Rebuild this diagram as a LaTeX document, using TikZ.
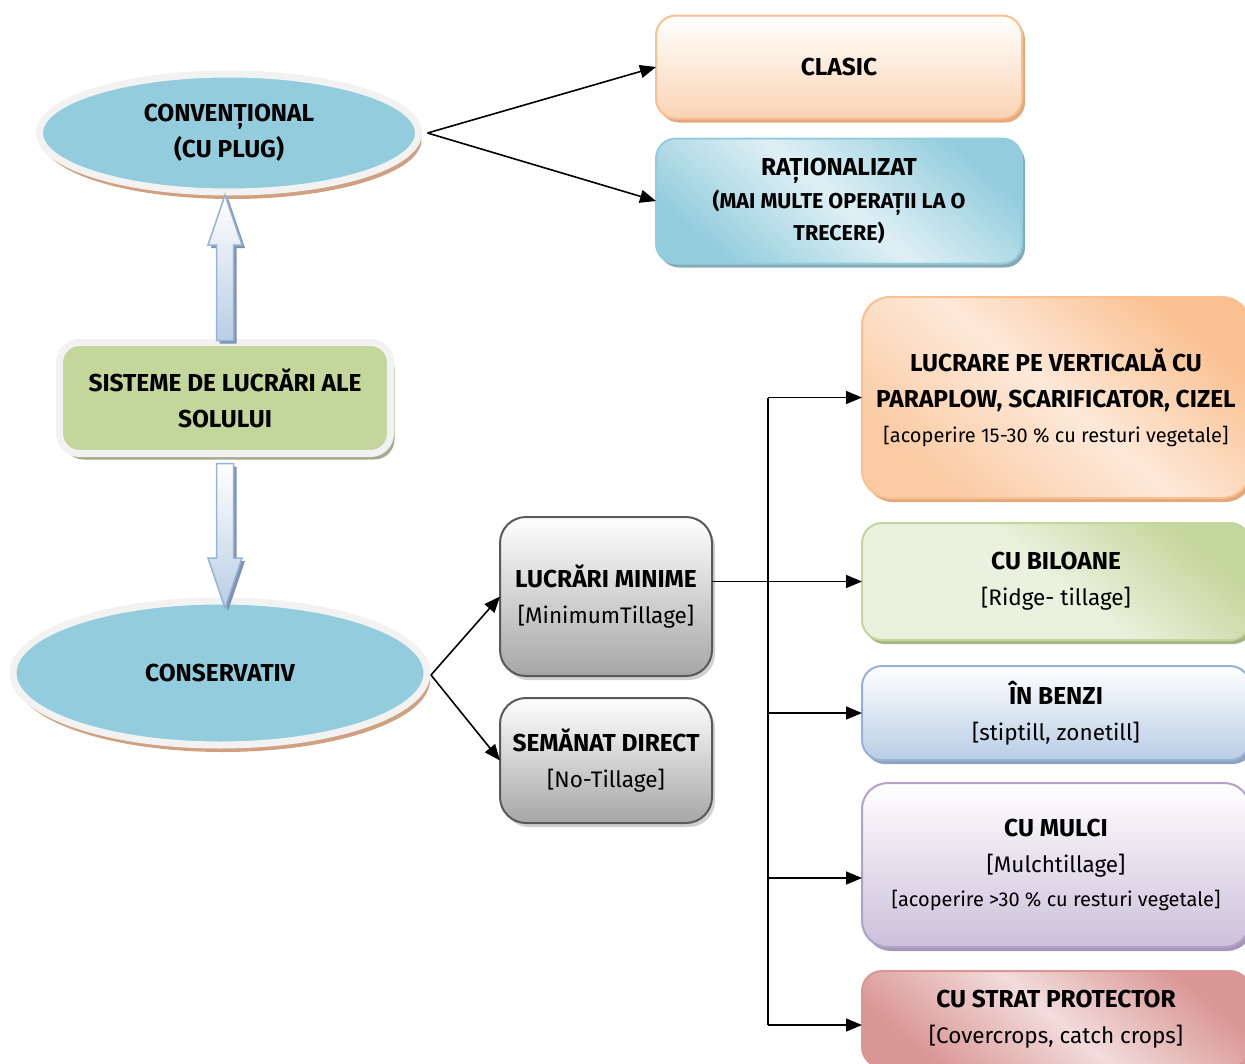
\documentclass[tikz,border=0pt]{standalone}
\usepackage{fontspec}
\setmainfont{Fira Sans}
\usetikzlibrary{arrows.meta,shapes.geometric,shadows,calc}
\definecolor{ellblue}{HTML}{93CDDD}
\definecolor{ring}{HTML}{F2F2F2}
\definecolor{ellshadow}{HTML}{D0A181}
\definecolor{sysgreen}{HTML}{C3D69B}
\definecolor{sysshadow}{HTML}{A3AC8E}
\definecolor{arrfill}{HTML}{B9CDE5}
\definecolor{arrdraw}{HTML}{95B3D7}
\definecolor{arrshadow}{HTML}{8093AE}
\definecolor{peach}{HTML}{FAC090}
\definecolor{peachlight}{HTML}{FDE9D9}
\definecolor{peachbot}{HTML}{FBD4B4}
\definecolor{peachshadow}{HTML}{E2A97F}
\definecolor{aqua}{HTML}{93CDDD}
\definecolor{aqualight}{HTML}{DFF0F5}
\definecolor{aquashadow}{HTML}{86A9B7}
\definecolor{grn}{HTML}{C3D69B}
\definecolor{grnlight}{HTML}{EBF1DE}
\definecolor{grnshadow}{HTML}{A4B583}
\definecolor{blu}{HTML}{B9CDE5}
\definecolor{bluborder}{HTML}{95B3D7}
\definecolor{blushadow}{HTML}{8FA3BC}
\definecolor{pur}{HTML}{CCC0DA}
\definecolor{purborder}{HTML}{B3A2C7}
\definecolor{purshadow}{HTML}{A796B8}
\definecolor{red}{HTML}{D99694}
\definecolor{redlight}{HTML}{F2DCDB}
\definecolor{gborder}{HTML}{595959}
\definecolor{gbot}{HTML}{A6A6A6}
\definecolor{gshadow}{HTML}{D0D0D0}
\newcommand\mybold{\fontsize{24.5}{36}\selectfont\bfseries}
\newcommand\myreg{\fontsize{22.5}{36}\selectfont\mdseries}
\newcommand\mysmall{\fontsize{20}{34}\selectfont\mdseries}
\newcommand\mymidb{\fontsize{21.5}{32}\selectfont\bfseries}
\begin{document}
\begin{tikzpicture}[x=1pt,y=-1pt,
  every node/.style={inner sep=0pt, outer sep=0pt},
  shad/.style={drop shadow={shadow xshift=3pt, shadow yshift=-4pt, fill=#1, opacity=1}},
  ell/.style={ellipse, draw=ring, line width=7pt, fill=ellblue, align=center, font=\mybold,
    drop shadow={shadow xshift=3pt, shadow yshift=-7pt, fill=ellshadow, opacity=1}},
  sysbox/.style={rectangle, rounded corners=20pt, draw=ring, line width=7pt, fill=sysgreen,
    align=center, font=\mybold,
    drop shadow={shadow xshift=4pt, shadow yshift=-6pt, fill=sysshadow, opacity=1}},
  rb/.style={rectangle, rounded corners=20pt, line width=2pt, align=center, font=\mybold},
  gbox/.style={rb, rounded corners=26pt, draw=gborder, top color=white, bottom color=gbot, shad=gshadow},
  ln/.style={draw=black, line width=1.6pt},
  arr/.style={ln, -{Triangle[length=16pt,width=13pt]}},
  blockarr/.style={draw=arrdraw, line width=1.5pt, top color=white, bottom color=arrfill,
    drop shadow={shadow xshift=3pt, shadow yshift=-3pt, fill=arrshadow, opacity=1}}
]
\useasboundingbox (0,0) rectangle (1245,1063);

% main nodes
\node[ell, minimum width=379pt, minimum height=118pt] (conv) at (229,133) {CONVENȚIONAL\\(CU PLUG)};
\node[ell, minimum width=414pt, minimum height=144pt] (cons) at (220,673) {CONSERVATIV};
\node[sysbox, minimum width=331pt, minimum height=111pt] (sys) at (225,398) {SISTEME DE LUCRĂRI ALE\\SOLULUI};

% top right
\node[rb, draw=peach, top color=white, bottom color=peachbot, shad=peachshadow,
  minimum width=366pt, minimum height=103pt] (cl) at (839,67) {CLASIC};
\node[rb, draw=aqua, top color=aqua, bottom color=aqua, middle color=aqualight, shading angle=-40, shad=aquashadow,
  minimum width=366pt, minimum height=125pt] (rt) at (839,201)
  {RAȚIONALIZAT\\[-3pt]{\mymidb (MAI MULTE OPERAȚII LA O}\\[-4pt]{\mymidb TRECERE)}};

% middle gray boxes
\node[gbox, minimum width=212pt, minimum height=159pt] (lm) at (606,596.5) {LUCRĂRI MINIME\\{\myreg [MinimumTillage]}};
\node[gbox, minimum width=212pt, minimum height=125pt] (sd) at (606,760.5) {SEMĂNAT DIRECT\\{\myreg [No-Tillage]}};

% right boxes
\node[rb, rounded corners=28pt, draw=peach, top color=peach, bottom color=peach!75!peachlight, middle color=peachlight, shading angle=-40, shad=peachshadow,
  minimum width=388pt, minimum height=201pt] (lv) at (1056,397.5)
  {LUCRARE PE VERTICALĂ CU\\PARAPLOW, SCARIFICATOR, CIZEL\\[-1pt]{\mysmall [acoperire 15-30 \% cu resturi vegetale]}};
\node[rb, draw=grn, top color=grn, bottom color=grnlight, middle color=grnlight, shading angle=-40, shad=grnshadow,
  minimum width=388pt, minimum height=117pt] (bi) at (1056,581.5) {CU BILOANE\\{\myreg [Ridge- tillage]}};
\node[rb, draw=bluborder, top color=white, bottom color=blu, shad=blushadow,
  minimum width=388pt, minimum height=94pt] (bz) at (1056,713) {ÎN BENZI\\{\myreg [stiptill, zonetill]}};
\node[rb, rounded corners=26pt, draw=purborder, top color=white, bottom color=pur, shad=purshadow,
  minimum width=388pt, minimum height=164pt] (mu) at (1056,865)
  {CU MULCI\\{\myreg [Mulchtillage]}\\[-2pt]{\mysmall [acoperire >30 \% cu resturi vegetale]}};
\node[rb, draw=red, top color=red, bottom color=red, middle color=redlight, shading angle=-40, shad=red,
  minimum width=388pt, minimum height=96pt] (st) at (1056,1019) {CU STRAT PROTECTOR\\{\myreg [Covercrops, catch crops]}};

% block arrows
\draw[blockarr] let \p1=(sys.north), \p2=(conv.south) in
  (\x1-8.5pt,\y1+2pt) -- (\x1-8.5pt,\y2-53pt) -- (\x1-17pt,\y2-53pt) -- (\x1,\y2-3pt)
  -- (\x1+17pt,\y2-53pt) -- (\x1+8.5pt,\y2-53pt) -- (\x1+8.5pt,\y1+2pt) -- cycle;
\draw[blockarr] let \p1=(sys.south), \p2=(cons.north) in
  (\x1-8.5pt,\y1-10pt) -- (\x1-8.5pt,\y2+43pt) -- (\x1-17pt,\y2+43pt) -- (\x1,\y2-7pt)
  -- (\x1+17pt,\y2+43pt) -- (\x1+8.5pt,\y2+43pt) -- (\x1+8.5pt,\y1-10pt) -- cycle;

% connectors
\coordinate (cr) at ($(conv.east)+(9,0)$);
\draw[arr] (cr) -- (cl.west);
\draw[arr] (cr) -- (rt.west);
\coordinate (sr) at ($(cons.east)+(4,2)$);
\draw[arr] (sr) -- (lm.west);
\draw[arr] (sr) -- (sd.west);
\draw[arr] (lm.east |- bi.west) -- (bi.west);

\coordinate (vx) at (768,0);
\coordinate (v1) at (vx |- lv.west);
\coordinate (v3) at (vx |- bz.west);
\coordinate (v4) at (768,878);
\coordinate (v5) at (768,1025);
\draw[ln] (v1) -- (v5);
\draw[arr] (v1) -- (v1 -| lv.west);
\draw[arr] (v3) -- (v3 -| bz.west);
\draw[arr] (v4) -- (v4 -| mu.west);
\draw[arr] (v5) -- (v5 -| st.west);
\end{tikzpicture}
\end{document}
